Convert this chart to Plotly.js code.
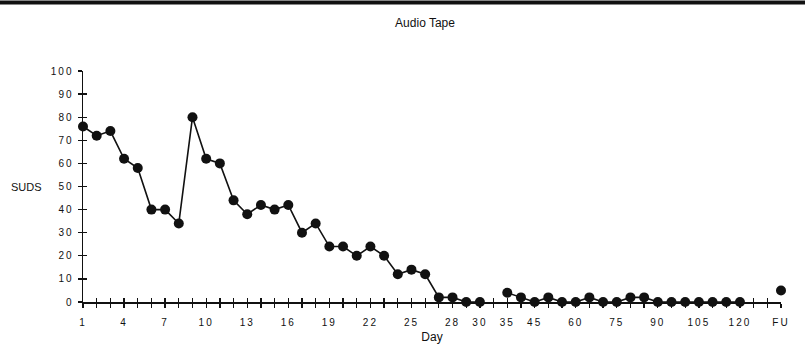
<!DOCTYPE html>
<html>
<head>
<meta charset="utf-8">
<script src="https://cdn.plot.ly/plotly-3.0.1.min.js"></script>
<style>
html,body{margin:0;padding:0;background:#fff;}
#chart{width:805px;height:351px;}
#chart .xtick text, #chart .ytick text{letter-spacing:2px;}
</style>
</head>
<body>
<div id="chart"></div>
<script>
// Category axis: session days (unlabelled slots included)
const days = ["1","2","3","4","5","6","7","8","9","10","11","12","13","14","15","16","17","18","19","20",
  "21","22","23","24","25","26","27","28","29","30","32","35","40","45","50","55","60","65","70","75",
  "80","85","90","95","100","105","110","115","120","125","130","FU"];
// SUDS ratings (null = no rating, line broken)
const suds = [76,72,74,62,58,40,40,34,80,62,60,44,38,42,40,42,30,34,24,24,
  20,24,20,12,14,12,2,2,0,0,null,4,2,0,2,0,0,2,0,0,
  2,2,0,0,0,0,0,0,0,null,null,5];
// Day labels that are printed under the axis
const labeledDays = ["1","4","7","10","13","16","19","22","25","28","30","35","45","60","75","90","105","120","FU"];
const yTicks = [0,10,20,30,40,50,60,70,80,90,100];

const ink = "#111";
const tickText = days.map(d => labeledDays.includes(d) ? d : "");

const trace = {
  x: days, y: suds, type: "scatter", mode: "lines+markers",
  line: {color: ink, width: 1.6},
  marker: {color: ink, size: 10},
  connectgaps: false, cliponaxis: false, showlegend: false, hoverinfo: "x+y"
};
const ghost = {x: days, y: suds, xaxis: "x2", yaxis: "y2", type: "scatter", mode: "none", showlegend: false, hoverinfo: "skip"};

const baseX = {
  type: "category", categoryorder: "array", categoryarray: days,
  range: [0, days.length - 1], showgrid: false, zeroline: false,
  tickmode: "array", tickvals: days, ticklen: 4, tickwidth: 1.3, tickcolor: ink
};
const baseY = {range: [0, 100], showgrid: false, zeroline: false, tickmode: "array", tickvals: yTicks, ticklen: 4, tickwidth: 1.3, tickcolor: ink};

const layout = {
  width: 805, height: 351,
  margin: {l: 83, r: 24, t: 71, b: 49},
  paper_bgcolor: "#fff", plot_bgcolor: "#fff",
  font: {family: "Liberation Sans, Arial, sans-serif", color: ink, size: 10},
  title: {text: "Audio Tape", xref: "container", x: 0.528, yref: "container", y: 0.934, yanchor: "middle",
          font: {family: "Liberation Sans Narrow, Liberation Sans, Arial, sans-serif", size: 12, color: ink}},
  xaxis: Object.assign({}, baseX, {
    ticks: "outside", ticktext: tickText, showline: true, linecolor: ink, linewidth: 1.5,
    tickfont: {size: 10}, tickangle: 0, ticklabelstandoff: 6,
    title: {text: "Day", font: {size: 12}, standoff: 6}
  }),
  xaxis2: Object.assign({}, baseX, {overlaying: "x", anchor: "y2", side: "bottom", ticks: "inside", showticklabels: false, showline: false, ticktext: tickText}),
  yaxis: Object.assign({}, baseY, {ticks: "outside", showline: true, linecolor: ink, linewidth: 1.5, tickfont: {size: 10}, ticklabelstandoff: 2}),
  yaxis2: Object.assign({}, baseY, {overlaying: "y", anchor: "x2", side: "left", ticks: "inside", showticklabels: false, showline: false}),
  annotations: [
    {text: "SUDS", xref: "paper", yref: "paper", x: -0.081, y: 0.5, showarrow: false, xanchor: "center", yanchor: "middle",
     font: {family: "Liberation Sans Narrow, Liberation Sans, Arial, sans-serif", size: 11, color: ink}}
  ],
  shapes: [
    {type: "line", xref: "paper", yref: "paper", x0: -83/698, x1: 722/698, y0: (302-2.5)/231, y1: (302-2.5)/231,
     line: {color: ink, width: 4}}
  ]
};

Plotly.newPlot("chart", [ghost, trace], layout, {displayModeBar: false, staticPlot: true});
</script>
</body>
</html>
